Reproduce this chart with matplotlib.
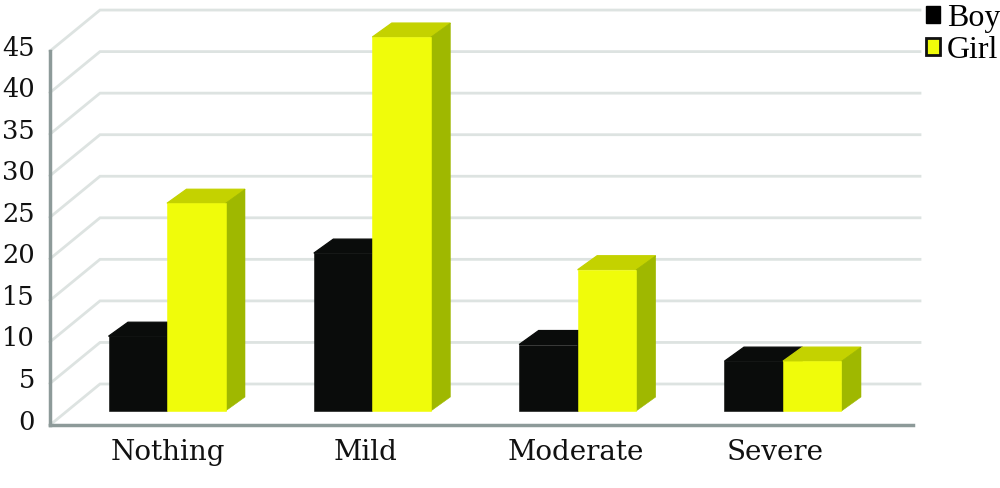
import numpy as np
import matplotlib.pyplot as plt
from matplotlib.patches import Polygon


categories = ["Nothing", "Mild", "Moderate", "Severe"]
boy = [9, 19, 8, 6]
girl = [25, 45, 17, 6]
y_ticks = [0, 5, 10, 15, 20, 25, 30, 35, 40, 45]

# pixel scale of the reference
px_x = 205.33
px_y = 8.31
w = 58.5 / px_x
dx = 19.5 / px_x   # bar depth
dy = 14 / px_y
wall_front = -14 / px_y   # where the value 0 sits on the front edge
wall_back = 27 / px_y
wall_left = -117 / px_x
wall_mid = -67 / px_x
wall_right = 753 / px_x
axis_right = 746 / px_x

boy_colors = ("#0a0c0b", "#0a0c0b", "#0a0c0b")
girl_colors = ("#f0fc0a", "#c4d200", "#9fb800")


def draw_bars(ax, x, values, colors, z):
    front, top, side = colors
    ax.bar(x, values, width=w, color=front, ec=front, lw=0.4, zorder=z + 0.2)
    for xi, v in zip(x, values):
        l, r = xi - w / 2, xi + w / 2
        ax.add_patch(Polygon([(l, v), (l + dx, v + dy), (r + dx, v + dy), (r, v)], fc=top, ec=top, lw=0.9, zorder=z))
        ax.add_patch(Polygon([(r, 0), (r + dx, dy), (r + dx, v + dy), (r, v)], fc=side, ec=side, lw=0.4, zorder=z + 0.1))


fig = plt.figure(figsize=(10, 4.88), dpi=100)
ax = fig.add_axes([0, 0, 1, 1])
ax.set_xlim(-167 / px_x, 833 / px_x)
ax.set_ylim(-77 / px_y, 411 / px_y)
ax.axis("off")

# walls
for t in y_ticks:
    ax.plot([wall_left, wall_mid, wall_right], [t + wall_front, t + wall_back, t + wall_back],
            color="#dde3e1", lw=2, zorder=1, solid_joinstyle="miter")
ax.plot([wall_left, wall_left], [wall_front, y_ticks[-1] + wall_front], color="#8d9a99", lw=2.5, zorder=2)
ax.plot([wall_left, axis_right], [wall_front, wall_front], color="#8d9a99", lw=2.5, zorder=2)

x = np.arange(len(categories))
draw_bars(ax, x - w / 2, boy, boy_colors, 3)
draw_bars(ax, x + w / 2, girl, girl_colors, 4)

for t in y_ticks:
    ax.text(wall_left - 15 / px_x, t + wall_front + 3 / px_y, str(t), ha="right", va="center",
            family="DejaVu Serif", fontsize=18.5, color="#111111")

for xi, c, off in zip(x, categories, [1, -7, -2, -8]):
    ax.text(xi + off / px_x, -42 / px_y, c, ha="center", va="center",
            family="DejaVu Serif", fontsize=20, color="#111111")

# legend
fig.legend(handles=[plt.Rectangle((0, 0), 1, 1, fc="black", ec="black"),
                    plt.Rectangle((0, 0), 1, 1, fc="#f0fc0a", ec="#111111", lw=2)],
           labels=["Boy", "Girl"], loc="upper right", bbox_to_anchor=(1.0, 0.992), frameon=False,
           prop={"family": "Liberation Serif", "size": 23}, handlelength=0.44, handleheight=0.44,
           handletextpad=0.2, labelspacing=0.1, borderpad=0, borderaxespad=0)

plt.savefig("out.png", dpi=100, facecolor="white")
